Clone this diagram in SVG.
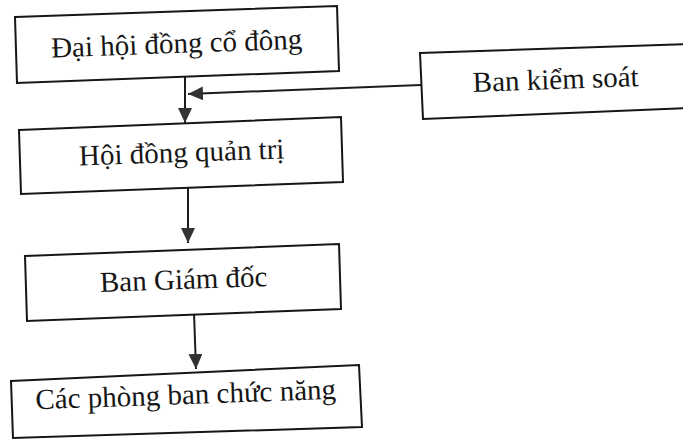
<svg xmlns="http://www.w3.org/2000/svg" width="683" height="442" viewBox="0 0 683 442">
  <style>
    .box { fill: #ffffff; stroke: #161616; stroke-width: 2; stroke-linejoin: miter; }
    .label { font-family: "Liberation Serif", "Times New Roman", serif; font-size: 29px; fill: #161616; text-anchor: middle; }
    .edge { fill: none; stroke: #1c1c1c; stroke-width: 2; }
  </style>
  <defs>
    <marker id="arrow" markerUnits="userSpaceOnUse" markerWidth="16" markerHeight="14" refX="15" refY="7" orient="auto">
      <path d="M0,0 L15,7 L0,14 Z" fill="#333333"/>
    </marker>
  </defs>
  <rect width="683" height="442" fill="#ffffff"/>

  <g id="connectors">
    <line class="edge" x1="185" y1="76" x2="185" y2="123" marker-end="url(#arrow)"/>
    <line class="edge" x1="421" y1="85" x2="188" y2="94" marker-end="url(#arrow)"/>
    <line class="edge" x1="188" y1="184" x2="188" y2="243" marker-end="url(#arrow)"/>
    <line class="edge" x1="194" y1="313" x2="196" y2="369" marker-end="url(#arrow)"/>
  </g>

  <g id="dai-hoi-dong-co-dong">
    <polygon class="box" points="15,17 337,6 339,71 17,83"/>
    <text class="label" x="177" y="53" transform="rotate(-2 177 53)">Đại hội đồng cổ đông</text>
  </g>

  <g id="ban-kiem-soat">
    <polygon class="box" points="420,53 690,44 690,108 423,119"/>
    <text class="label" x="556" y="89" transform="rotate(-2 556 89)">Ban kiểm soát</text>
  </g>

  <g id="hoi-dong-quan-tri">
    <polygon class="box" points="19,130 341,117 343,182 21,194"/>
    <text class="label" x="182" y="162" transform="rotate(-2 182 162)">Hội đồng quản trị</text>
  </g>

  <g id="ban-giam-doc">
    <polygon class="box" points="25,256 339,244 341,309 27,321"/>
    <text class="label" x="184" y="289" transform="rotate(-2 184 289)">Ban Giám đốc</text>
  </g>

  <g id="cac-phong-ban-chuc-nang">
    <polygon class="box" points="11,381 359,365 362,427 13,438"/>
    <text class="label" x="186" y="404" transform="rotate(-2 186 404)">Các phòng ban chức năng</text>
  </g>
</svg>
